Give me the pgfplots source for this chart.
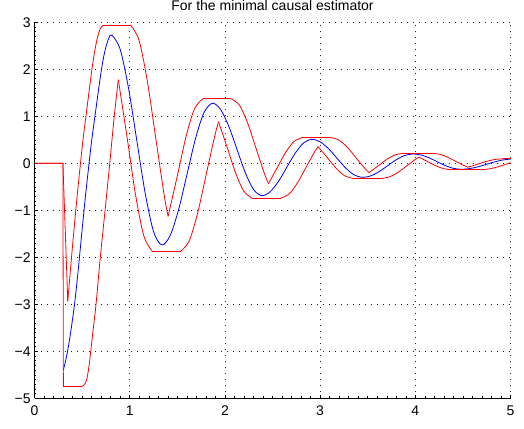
\documentclass[border=0pt]{standalone}
\usepackage{fontspec}
\setmainfont{Liberation Sans}
\usepackage{pgfplots}
\pgfplotsset{compat=1.18}
\usetikzlibrary{calc}
\pgfplotsset{
  env/.style={color=red, line width=0.6pt, smooth},
  est/.style={color=blue, line width=0.6pt, smooth},
}
\begin{document}
\begin{tikzpicture}
\begin{axis}[name=ax, scale only axis, width=357pt, height=282pt,
  xmin=0, xmax=5, ymin=-5, ymax=3,
  axis x line*=bottom, axis y line*=left,
  xtick={0,1,2,3,4,5}, ytick={-5,-4,-3,-2,-1,0,1,2,3},
  xticklabels={0,1,2,3,4,5},
  yticklabels={−5,−4,−3,−2,−1,0,1,2,3},
  minor x tick num=9, minor y tick num=9,
  tick align=inside, major tick length=2.6pt, minor tick length=1.4pt,
  tick style={black, line width=0.4pt},
  axis line style={black, line width=0.5pt},
  grid=major,
  major grid style={black!85, line width=0.5pt, dash pattern=on 0.6pt off 3.9pt},
  ticklabel style={font=\fontsize{10.5}{12}\selectfont},
  xticklabel style={yshift=-2.4pt},
  yticklabel style={xshift=0.6pt},
  title={For the minimal causal estimator},
  title style={font=\fontsize{10.5}{12}\selectfont, at={(0.5,1)}, anchor=base, yshift=3pt},
  no markers,
]
% estimate (blue)
\addplot[est] coordinates {(0.303,-4.40)(0.33,-4.17)(0.36,-3.85)(0.39,-3.45)(0.42,-3.0)(0.45,-2.45)(0.48,-1.83)(0.51,-1.2)(0.54,-0.6)(0.57,-0.05)(0.60,0.48)(0.63,0.93)(0.66,1.38)(0.69,1.82)(0.72,2.2)(0.75,2.48)(0.78,2.66)(0.811,2.73)
(0.8985,2.4305)(0.986,1.6125)(1.0735,0.495)(1.161,-0.6225)(1.2485,-1.4405)(1.336,-1.74)
(1.4247,-1.5379)(1.5133,-0.9858)(1.602,-0.2315)(1.6907,0.5228)(1.7793,1.0749)(1.868,1.277)
(1.9543,1.1453)(2.0407,0.7855)(2.127,0.294)(2.2133,-0.1975)(2.2997,-0.5573)(2.386,-0.689)
(2.4737,-0.6087)(2.5613,-0.3893)(2.649,-0.0895)(2.7367,0.2103)(2.8243,0.4297)(2.912,0.51)
(3.0008,0.4557)(3.0897,0.3075)(3.1785,0.105)(3.2673,-0.0975)(3.3562,-0.2457)(3.445,-0.30)
(3.5333,-0.2666)(3.6217,-0.1755)(3.71,-0.051)(3.7983,0.0735)(3.8867,0.1646)(3.975,0.198)
(4.0592,0.1762)(4.1433,0.1165)(4.2275,0.035)(4.3117,-0.0465)(4.3958,-0.1062)(4.48,-0.128)
(4.57,-0.1135)(4.66,-0.074)(4.75,-0.02)(4.84,0.034)(4.93,0.0735)(5.0,0.087)};
% upper bound (red)
\addplot[env, sharp plot] coordinates {(0,0)(0.298,0)(0.349,-2.94)};
\addplot[env] coordinates {(0.349,-2.94)(0.39,-1.967)(0.42,-1.29)(0.45,-0.645)(0.48,-0.054)(0.51,0.516)(0.54,1.0)(0.57,1.4835)(0.60,1.9565)(0.63,2.365)(0.66,2.666)(0.69,2.8595)(0.721,2.935)};
\addplot[env, sharp plot] coordinates {(0.721,2.935)(1.011,2.935)};
\addplot[env] coordinates {(1.011,2.935)(1.0985,2.613)(1.186,1.733)(1.2735,0.532)(1.361,-0.669)(1.403,-1.13)};
\addplot[env] coordinates {(1.403,-1.13)(1.502,-0.2489)(1.5907,0.562)(1.6793,1.1555)(1.768,1.3728)};
\addplot[env, sharp plot] coordinates {(1.768,1.3728)(2.068,1.3728)};
\addplot[env] coordinates {(2.068,1.3728)(2.1543,1.2312)(2.2407,0.8444)(2.327,0.316)(2.4133,-0.2123)(2.457,-0.433)};
\addplot[env] coordinates {(2.457,-0.433)(2.549,-0.0962)(2.6367,0.2261)(2.7243,0.4619)(2.812,0.5483)};
\addplot[env, sharp plot] coordinates {(2.812,0.5483)(3.112,0.5483)};
\addplot[env] coordinates {(3.112,0.5483)(3.2008,0.4899)(3.2897,0.3306)(3.3785,0.1129)(3.4673,-0.1048)(3.514,-0.198)};
\addplot[env] coordinates {(3.514,-0.198)(3.61,-0.0548)(3.6983,0.0790)(3.7867,0.1769)(3.875,0.2129)};
\addplot[env, sharp plot] coordinates {(3.875,0.2129)(4.175,0.2129)};
\addplot[env] coordinates {(4.175,0.2129)(4.2592,0.1894)(4.3433,0.1252)(4.4275,0.0376)(4.5117,-0.05)(4.552,-0.085)};
\addplot[env] coordinates {(4.552,-0.085)(4.65,-0.0215)(4.74,0.0366)(4.83,0.079)(4.92,0.0946)};
\addplot[env, sharp plot] coordinates {(4.92,0.0946)(5.0,0.0946)};
% lower bound (red)
\addplot[env, sharp plot] coordinates {(0,0)(0.298,0)(0.303,-4.75)(0.495,-4.75)};
\addplot[env] coordinates {(0.495,-4.75)(0.52,-4.72)(0.545,-4.62)(0.565,-4.42)(0.585,-4.1)(0.615,-3.55)(0.646,-3.0)(0.691,-2.0)(0.741,-1.0)(0.79,0.0)(0.835,0.95)(0.88,1.78)};
\addplot[env] coordinates {(0.88,1.78)(0.9735,0.532)(1.061,-0.669)(1.1485,-1.5485)(1.236,-1.8705)};
\addplot[env, sharp plot] coordinates {(1.236,-1.8705)(1.536,-1.8705)};
\addplot[env] coordinates {(1.536,-1.8705)(1.6247,-1.6532)(1.7133,-1.0597)(1.802,-0.2489)(1.8907,0.562)(1.933,0.884)};
\addplot[env] coordinates {(1.933,0.884)(2.027,0.316)(2.1133,-0.2123)(2.1997,-0.5991)(2.286,-0.7407)};
\addplot[env, sharp plot] coordinates {(2.286,-0.7407)(2.586,-0.7407)};
\addplot[env] coordinates {(2.586,-0.7407)(2.6737,-0.6544)(2.7613,-0.4185)(2.849,-0.0962)(2.9367,0.2261)(2.978,0.354)};
\addplot[env] coordinates {(2.978,0.354)(3.0785,0.1129)(3.1673,-0.1048)(3.2562,-0.2641)(3.345,-0.3225)};
\addplot[env, sharp plot] coordinates {(3.345,-0.3225)(3.645,-0.3225)};
\addplot[env] coordinates {(3.645,-0.3225)(3.7333,-0.2866)(3.8217,-0.1887)(3.91,-0.0548)(3.9983,0.079)(4.038,0.130)};
\addplot[env] coordinates {(4.038,0.130)(4.1275,0.0376)(4.2117,-0.05)(4.2958,-0.1142)(4.38,-0.1376)};
\addplot[env, sharp plot] coordinates {(4.38,-0.1376)(4.68,-0.1376)};
\addplot[env] coordinates {(4.68,-0.1376)(4.77,-0.122)(4.86,-0.0796)(4.95,-0.0215)(5.0,0.0118)};
\end{axis}
\pgfresetboundingbox
\path ($(ax.south west)+(-25.9pt,-22.3pt)$) rectangle ($(ax.north east)+(10.1pt,16.7pt)$);
\end{tikzpicture}
\end{document}
